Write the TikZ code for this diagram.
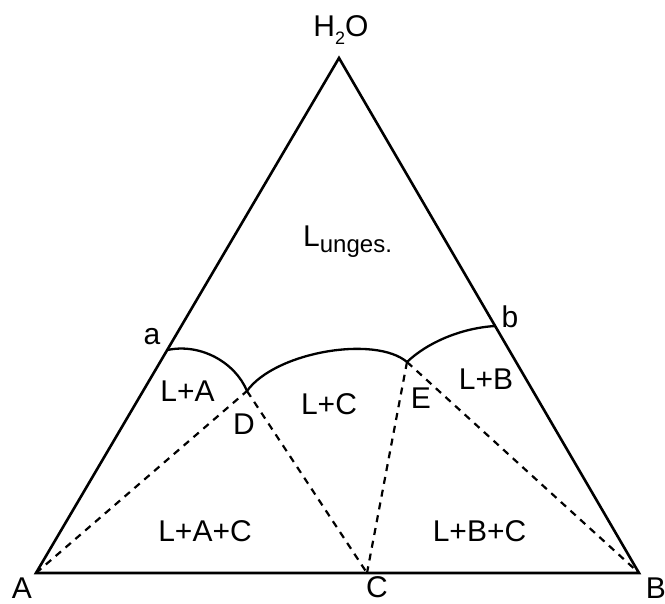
\documentclass[tikz,border=0pt]{standalone}
\usepackage{fontspec}
\setmainfont{Liberation Sans}
\begin{document}
\begin{tikzpicture}[x=1pt,y=-1pt,
  tri/.style={line width=2.6pt, line join=miter},
  phasecurve/.style={line width=2.3pt},
  dashline/.style={line width=2.2pt, dash pattern=on 7pt off 6pt},
  lbl/.style={inner sep=0pt, font=\fontsize{30}{36}\selectfont}]
\useasboundingbox (0,0) rectangle (665,604);
% vertices and points
\coordinate (H) at (339,58);
\coordinate (A) at (36,573);
\coordinate (B) at (639,573);
\coordinate (C) at (367,573);
\coordinate (a) at (167.5,350);
\coordinate (b) at (495,326);
\coordinate (D) at (247,391);
\coordinate (E) at (407,362);
% triangle
\draw[tri] (A) -- (H) -- (B) -- cycle;
% dashed tie lines
\draw[dashline] (A) -- (D);
\draw[dashline] (D) -- (C);
\draw[dashline] (E) -- (C);
\draw[dashline] (E) -- (B);
% liquidus curves
\draw[phasecurve] (a) .. controls (200,343) and (235,362) .. (D);
\draw[phasecurve] (D) .. controls (275,352) and (375,335) .. (E);
\draw[phasecurve] (E) .. controls (428,342) and (462,328) .. (b);
% labels
\node[lbl, anchor=base] (tH) at (341,37) {H{\fontsize{18}{18}\selectfont\raisebox{-8pt}{2}}O};
\node[lbl] (tA) at (22,588) {A};
\node[lbl] (tB) at (656,588) {B};
\node[lbl] (tC) at (377,587.5) {C};
\node[lbl] (ta) at (152,337) {a};
\node[lbl] (tb) at (510,317) {b};
\node[lbl] (tD) at (244,424) {D};
\node[lbl] (tE) at (421,398) {E};
\node[lbl] (tLA) at (187.5,391) {L+A};
\node[lbl] (tLB) at (486,379) {L+B};
\node[lbl] (tLC) at (329,404) {L+C};
\node[lbl] (tLAC) at (205,531) {L+A+C};
\node[lbl] (tLBC) at (479.5,531) {L+B+C};
\node[lbl, anchor=base west] (tL) at (303,247) {L{\fontsize{24}{24}\selectfont\raisebox{-6pt}{unges.}}};
\end{tikzpicture}
\end{document}
